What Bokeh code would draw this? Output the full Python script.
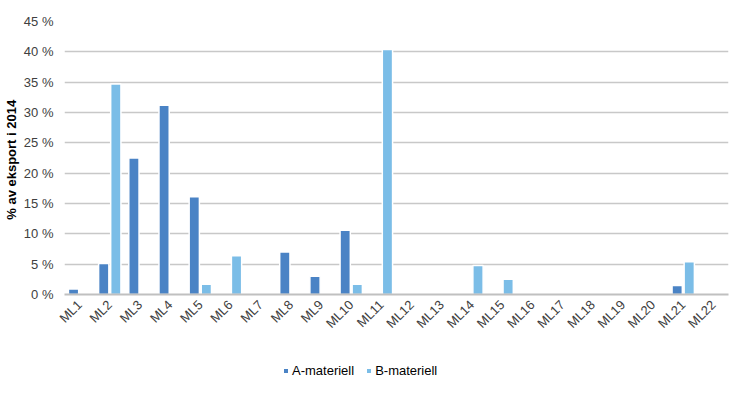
from bokeh.plotting import figure
from bokeh.layouts import column
from bokeh.models import FactorRange, ColumnDataSource, Legend, LegendItem, FixedTicker, CustomJSTickFormatter, Range1d
from bokeh.transform import dodge
from bokeh.embed import file_html
from bokeh.resources import INLINE
import math

categories = ["ML%d" % i for i in range(1, 23)]
a_materiell = [0.9, 5.1, 22.5, 31.2, 16.1, 0, 0, 7.0, 3.0, 10.6, 0, 0, 0, 0, 0, 0, 0, 0, 0, 0, 1.5, 0]
b_materiell = [0, 34.7, 0, 0, 1.7, 6.4, 0, 0, 0, 1.7, 40.4, 0, 0, 4.8, 2.5, 0, 0, 0, 0, 0, 5.4, 0]
y_ticks = [0, 5, 10, 15, 20, 25, 30, 35, 40, 45]
series_names = ["A-materiell", "B-materiell"]

FONT = "Liberation Sans"
TXT = "#404040"
COL_A = "#4a83c5"
COL_B = "#7bbde7"

p = figure(width=730, height=340, x_range=FactorRange(factors=categories, range_padding=0),
           y_range=Range1d(0, 45), output_backend="svg", toolbar_location=None,
           min_border_left=0, min_border_right=2, min_border_top=21, min_border_bottom=46)
p.outline_line_color = None

src_a = ColumnDataSource(dict(cat=[c for c, v in zip(categories, a_materiell) if v > 0],
                              val=[v for v in a_materiell if v > 0]))
src_b = ColumnDataSource(dict(cat=[c for c, v in zip(categories, b_materiell) if v > 0],
                              val=[v for v in b_materiell if v > 0]))

p.vbar(x=dodge("cat", -0.2, range=p.x_range), top="val", width=0.34, source=src_a,
       fill_color=COL_A, line_color="white", line_width=1.5)
p.vbar(x=dodge("cat", 0.2, range=p.x_range), top="val", width=0.34, source=src_b,
       fill_color=COL_B, line_color="white", line_width=1.5)

p.xgrid.grid_line_color = None
p.ygrid.grid_line_color = "#c8c8c8"
p.ygrid.grid_line_width = 1.5
p.yaxis.ticker = FixedTicker(ticks=y_ticks)
p.yaxis.formatter = CustomJSTickFormatter(code="return tick + ' %';")
p.yaxis.axis_line_color = None
p.yaxis.major_tick_line_color = None
p.yaxis.minor_tick_line_color = None
p.yaxis.major_tick_out = 0
p.yaxis.major_tick_in = 0
p.yaxis.major_label_standoff = 11
p.yaxis.major_label_text_font = FONT
p.yaxis.major_label_text_font_size = "13px"
p.yaxis.major_label_text_color = TXT
p.yaxis.axis_label = "% av eksport  i 2014"
p.yaxis.axis_label_text_font = FONT
p.yaxis.axis_label_text_font_size = "13px"
p.yaxis.axis_label_text_font_style = "bold"
p.yaxis.axis_label_text_color = "#000000"
p.yaxis.axis_label_standoff = 2

p.xaxis.axis_line_color = "#c0c0c0"
p.xaxis.axis_line_width = 2
p.xaxis.major_tick_line_color = None
p.xaxis.minor_tick_line_color = None
p.xaxis.major_tick_out = 0
p.xaxis.major_tick_in = 0
p.xaxis.major_label_orientation = math.pi / 4
p.xaxis.major_label_text_font = FONT
p.xaxis.major_label_text_font_size = "13px"
p.xaxis.major_label_text_color = TXT
p.xaxis.major_label_standoff = 8

# legend strip below the chart (its frame is aligned with the chart frame by the column layout)
leg = figure(width=730, height=54, output_backend="svg", toolbar_location=None,
             x_range=Range1d(0, 1), y_range=Range1d(0, 1),
             x_axis_location=None, y_axis_location=None,
             min_border=0, min_border_left=0, min_border_right=0, min_border_top=0, min_border_bottom=0)
leg.grid.visible = False
leg.outline_line_color = None
# zero-area proxies (nothing drawn) so that the legend has a glyph style to draw
la = leg.vbar(x=[0.5], top=[-2], bottom=[-2], width=0.01, fill_color=COL_A, line_color=None)
lb = leg.vbar(x=[0.5], top=[-2], bottom=[-2], width=0.01, fill_color=COL_B, line_color=None)
legend = Legend(items=[LegendItem(label=series_names[0], renderers=[la]),
                       LegendItem(label=series_names[1], renderers=[lb])],
                orientation="horizontal", location=(219, 16),
                glyph_width=5, glyph_height=5, label_text_font=FONT,
                label_text_font_size="13px", label_text_color="#000000",
                border_line_color=None, background_fill_alpha=0,
                spacing=12, label_standoff=4, margin=0, padding=2)
leg.add_layout(legend, "center")

layout = column(p, leg, spacing=0)
open("out.html", "w").write(file_html(layout, INLINE))
